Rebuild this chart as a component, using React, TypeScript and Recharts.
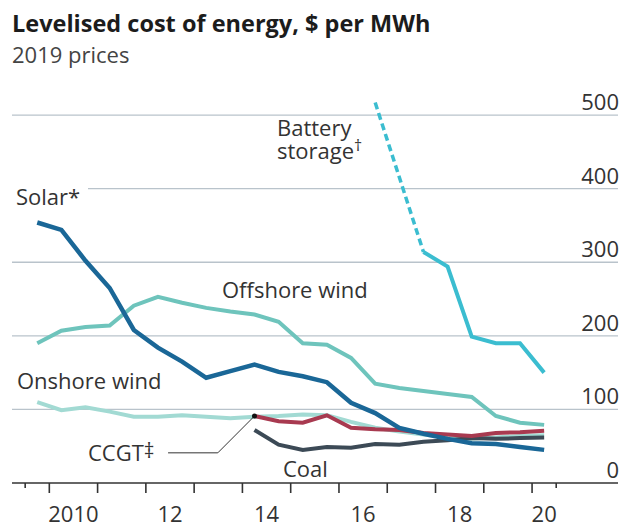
import {
  Line,
  LineChart,
  ReferenceDot,
  ReferenceLine,
  XAxis,
  YAxis,
} from "recharts";

// half-year observations, plotted at the middle of each half
const halfYears = [
  2009.75, 2010.25, 2010.75, 2011.25, 2011.75, 2012.25, 2012.75, 2013.25, 2013.75, 2014.25, 2014.75,
  2015.25, 2015.75, 2016.25, 2016.75, 2017.25, 2017.75, 2018.25, 2018.75, 2019.25, 2019.75, 2020.25,
];

const solar = [354, 344, 302, 265, 208, 184, 165, 143, 152, 161, 151, 145, 137, 109, 95, 75, 67, 60, 54, 53, 49, 45];
const offshoreWind = [190, 207, 212, 214, 241, 253, 245, 238, 233, 229, 219, 190, 188, 170, 135, 129, 125, 121, 117, 91, 82, 79];
const onshoreWind = [110, 99, 103, 97, 90, 90, 92, 90, 88, 90, 91, 93, 92, 83, 75, 70, 66, 62, 60, 62, 64, 65];
const ccgt = [null, null, null, null, null, null, null, null, null, 91, 84, 82, 92, 75, 73, 72, 68, 66, 64, 68, 69, 71];
const coal = [null, null, null, null, null, null, null, null, null, 72, 52, 45, 49, 48, 53, 52, 56, 58, 61, 60, 61, 62];
const battery = [null, null, null, null, null, null, null, null, null, null, null, null, null, null, null, null, 314, 294, 199, 190, 190, 150];
const batteryEstimate = [null, null, null, null, null, null, null, null, null, null, null, null, null, null, 517, null, 314, null, null, null, null, null];

const valueTicks = [0, 100, 200, 300, 400, 500];
const yearMarks = [2009.5, 2010, 2011, 2012, 2013, 2014, 2015, 2016, 2017, 2018, 2019, 2020, 2020.5];
const yearLabelAt = [2010.5, 2012.5, 2014.5, 2016.5, 2018.5, 2020.25];
const yearLabels = ["2010", "12", "14", "16", "18", "20"];

const rows = halfYears.map((t, i) => ({
  t,
  solar: solar[i],
  offshore: offshoreWind[i],
  onshore: onshoreWind[i],
  ccgt: ccgt[i],
  coal: coal[i],
  battery: battery[i],
  batteryEst: batteryEstimate[i],
}));

const FONT = "'Open Sans', sans-serif";
const INK = "#333333";
const GRID = "#b9c3cb";

const ccgtStart = halfYears.findIndex((_, i) => ccgt[i] != null);

const YearTick = (props: any) => {
  const { x, y, payload } = props;
  const v = payload.value as number;
  const k = yearLabelAt.indexOf(v);
  if (k >= 0) {
    return (
      <text x={x} y={y + 39} textAnchor="middle" fontFamily={FONT} fontSize={22} fill={INK}>
        {yearLabels[k]}
      </text>
    );
  }
  const len = Number.isInteger(v) ? 10 : 5;
  return <line x1={x} x2={x} y1={y} y2={y + len} stroke={INK} strokeWidth={1.6} />;
};

// value label sitting on top of a gridline, right-aligned at the plot edge
const valueLabel = (v: number) => (props: any) => {
  const vb = props.viewBox || {};
  return (
    <text
      x={(vb.x ?? 0) + (vb.width ?? 0) + 1}
      y={(vb.y ?? 0) - 5}
      textAnchor="end"
      fontFamily={FONT}
      fontSize={22}
      fill={INK}
    >
      {v}
    </text>
  );
};

export default function App() {
  return (
    <div style={{ position: "absolute", left: 0, top: 0, width: 624, height: 527, background: "#fff" }}>
      <LineChart
        width={624}
        height={527}
        data={rows}
        margin={{ top: 93, right: 6, bottom: 0, left: 12 }}
      >
        <XAxis
          dataKey="t"
          type="number"
          domain={[2009.227, 2021.78]}
          ticks={[...yearMarks, ...yearLabelAt]}
          interval={0}
          height={44}
          tickSize={0}
          tickMargin={0}
          tick={<YearTick />}
          axisLine={{ stroke: INK, strokeWidth: 1.6 }}
          allowDataOverflow
        />
        <YAxis hide domain={[0, 530]} ticks={valueTicks} allowDataOverflow />
        {valueTicks.map((v) => (
          <ReferenceLine
            key={v}
            y={v}
            stroke={GRID}
            strokeWidth={1.3}
            strokeOpacity={v === 0 ? 0 : 1}
            label={valueLabel(v)}
          />
        ))}
        <Line dataKey="onshore" stroke="#a2dad3" strokeWidth={4} dot={false} isAnimationActive={false} />
        <Line dataKey="offshore" stroke="#6ec4bc" strokeWidth={4} dot={false} isAnimationActive={false} />
        <Line dataKey="coal" stroke="#3c4a56" strokeWidth={4} dot={false} isAnimationActive={false} />
        <Line dataKey="ccgt" stroke="#a83a50" strokeWidth={4} dot={false} isAnimationActive={false} />
        <Line
          dataKey="batteryEst"
          stroke="#3bbdd0"
          strokeWidth={3.5}
          strokeDasharray="7 4"
          connectNulls
          dot={false}
          isAnimationActive={false}
        />
        <Line dataKey="battery" stroke="#3bbdd0" strokeWidth={4} dot={false} isAnimationActive={false} />
        <Line dataKey="solar" stroke="#1a6797" strokeWidth={4.5} dot={false} isAnimationActive={false} />
        {/* CCGT leader */}
        <ReferenceLine
          segment={[{ x: 2012.46, y: 41 }, { x: 2013.49, y: 41 }]}
          stroke={INK}
          strokeWidth={1}
        />
        <ReferenceLine
          segment={[{ x: 2013.49, y: 41 }, { x: halfYears[ccgtStart], y: ccgt[ccgtStart] as number }]}
          stroke={INK}
          strokeWidth={1}
        />
        <ReferenceDot
          x={halfYears[ccgtStart]}
          y={ccgt[ccgtStart] as number}
          r={2.5}
          fill="#111"
          stroke="none"
        />
      </LineChart>

      <svg
        width={624}
        height={527}
        style={{ position: "absolute", left: 0, top: 0, pointerEvents: "none" }}
        fontFamily={FONT}
      >
        <text x={12} y={32} fontSize={23.5} fontWeight={700} fill="#1c1c1c">
          Levelised cost of energy, $ per MWh
        </text>
        <text x={12} y={63} fontSize={22} fill="#444">
          2019 prices
        </text>

        <rect x={10} y={183} width={78} height={10} fill="#fff" />
        <text x={16} y={205} fontSize={22} fill={INK}>
          Solar*
        </text>
        <text x={222} y={298} fontSize={22} fill={INK}>
          Offshore wind
        </text>
        <text x={17} y={389} fontSize={22} fill={INK}>
          Onshore wind
        </text>
        <text x={277} y={136} fontSize={22} fill={INK}>
          Battery
        </text>
        <text x={277} y={159} fontSize={22} fill={INK}>
          storage
          <tspan fontSize={16} dy={-8}>
            †
          </tspan>
        </text>
        <text x={88} y={461} fontSize={22} fill={INK}>
          CCGT
          <tspan fontSize={21} dy={-3}>
            ‡
          </tspan>
        </text>
        <text x={283} y={477} fontSize={22} fill={INK}>
          Coal
        </text>
      </svg>
    </div>
  );
}
